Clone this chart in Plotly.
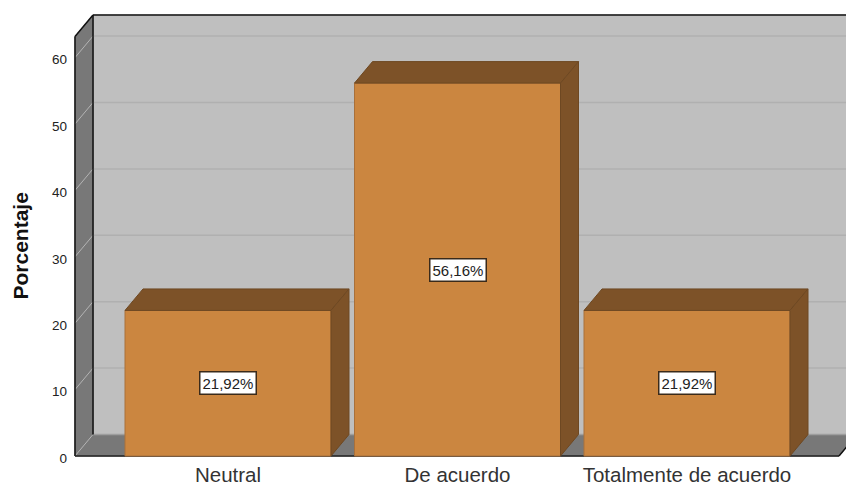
import plotly.graph_objects as go

categories = ["Neutral", "De acuerdo", "Totalmente de acuerdo"]
values = [21.92, 56.16, 21.92]
value_labels = ["21,92%", "56,16%", "21,92%"]
y_ticks = [0, 10, 20, 30, 40, 50, 60]
y_title = "Porcentaje"

FRONT = "#CB8640"
DARK = "#7D5228"
WALL = "#787878"
BACK = "#BFBFBF"

# pixel scale of the axes
PX_X = 229.5
PX_Y = 6.64
W, H = 846, 484
L, R, T, B = 72, 0, 10, 25
DX, DY = 18 / PX_X, 21.5 / PX_Y
BAR_W = 206 / PX_X
x_range = [(L - 228) / PX_X, (W - R - 228) / PX_X]
y_range = [-(H - B - 456) / PX_Y, (456 - T) / PX_Y]
X0, X1 = (75 - 228) / PX_X, (839 - 228) / PX_X
Y1 = (456 - 36.5) / PX_Y

xs = list(range(len(categories)))
fig = go.Figure()

fig.add_bar(x=xs, y=values, width=BAR_W, marker=dict(color=FRONT, line=dict(color="#A9703A", width=1)),
            hoverinfo="skip", showlegend=False)

for x, v in zip(xs, values):
    a, b = x - BAR_W / 2, x + BAR_W / 2
    fig.add_scatter(x=[a, a + DX, b + DX, b, a], y=[v, v + DY, v + DY, v, v], mode="lines",
                    fill="toself", fillcolor=DARK, line=dict(color="#6E4822", width=1),
                    hoverinfo="skip", showlegend=False)
    fig.add_scatter(x=[b, b + DX, b + DX, b, b], y=[v, v + DY, DY, 0, v], mode="lines",
                    fill="toself", fillcolor=DARK, line=dict(color="#6E4822", width=1),
                    hoverinfo="skip", showlegend=False)

def poly(px, py, fill, line=None, width=1):
    path = "M " + " L ".join(f"{a} {b}" for a, b in zip(px, py)) + " Z"
    return dict(type="path", path=path, xref="x", yref="y", layer="below", fillcolor=fill,
                line=dict(color=line or fill, width=width))

def seg(xa, ya, xb, yb, color, width=1):
    return dict(type="line", x0=xa, y0=ya, x1=xb, y1=yb, xref="x", yref="y", layer="below",
                line=dict(color=color, width=width))

shapes = [
    poly([X0 + DX, X1 + DX, X1 + DX, X0 + DX], [DY, DY, Y1 + DY, Y1 + DY], BACK),
    poly([X0, X0 + DX, X1 + DX, X1], [0, DY, DY, 0], WALL),
    poly([X0, X0 + DX, X0 + DX, X0], [0, DY, Y1 + DY, Y1], WALL),
    seg(X0 + DX, DY, X1 + DX, DY, "#9E9E9E", 1.5),
]
for t in y_ticks:
    if t > 0:
        shapes.append(seg(X0 + DX, t + DY, X1 + DX, t + DY, "#B0B0B0", 1.5))
    shapes.append(seg(X0, t, X0 + DX, t + DY, "#B4B4B4", 1))
shapes += [
    seg(X0, 0, X0, Y1, "#111111", 1.5),
    seg(X0, Y1, X0 + DX, Y1 + DY, "#111111", 1.5),
    seg(X0 + DX, DY, X0 + DX, Y1 + DY, "#111111", 1.5),
    seg(X0 + DX, Y1 + DY, X1 + DX, Y1 + DY, "#111111", 1.5),
    seg(X0, 0, X1, 0, "#222222", 1.5),
    seg(X1, 0, X1 + DX, DY, "#111111", 1.5),
]

annotations = [
    dict(x=x, y=v / 2, xref="x", yref="y", text=lab, showarrow=False, bgcolor="white",
         bordercolor="#3A2A1A", borderwidth=1.5, borderpad=2,
         font=dict(family="Liberation Sans", size=15, color="#222222"))
    for x, v, lab in zip(xs, values, value_labels)
]
annotations.append(dict(xref="paper", yref="paper", x=-52 / (W - L - R), y=(H - B - 246.5) / (H - T - B),
                        text=f"<b>{y_title}</b>", textangle=-90, showarrow=False,
                        xanchor="center", yanchor="middle",
                        font=dict(family="Liberation Sans", size=21, color="#111111")))

fig.update_layout(
    width=W, height=H, margin=dict(l=L, r=R, t=T, b=B, pad=0, autoexpand=False),
    paper_bgcolor="white", plot_bgcolor="white", showlegend=False,
    shapes=shapes, annotations=annotations,
    xaxis=dict(range=x_range, tickmode="array", tickvals=xs, ticktext=categories, showgrid=False,
               zeroline=False, showline=False, ticks="", fixedrange=True, ticklabelstandoff=1,
               tickfont=dict(family="Liberation Sans", size=20.5, color="#333333")),
    yaxis=dict(range=y_range, tickmode="array", tickvals=y_ticks, showgrid=False, zeroline=False,
               showline=False, ticks="", fixedrange=True, ticklabelstandoff=4, ticklabelshift=2,
               tickfont=dict(family="Liberation Sans", size=13.5, color="#222222")),
)
fig.write_html("out.html", config=dict(displayModeBar=False),
               post_script="document.body.style.margin='0';")
